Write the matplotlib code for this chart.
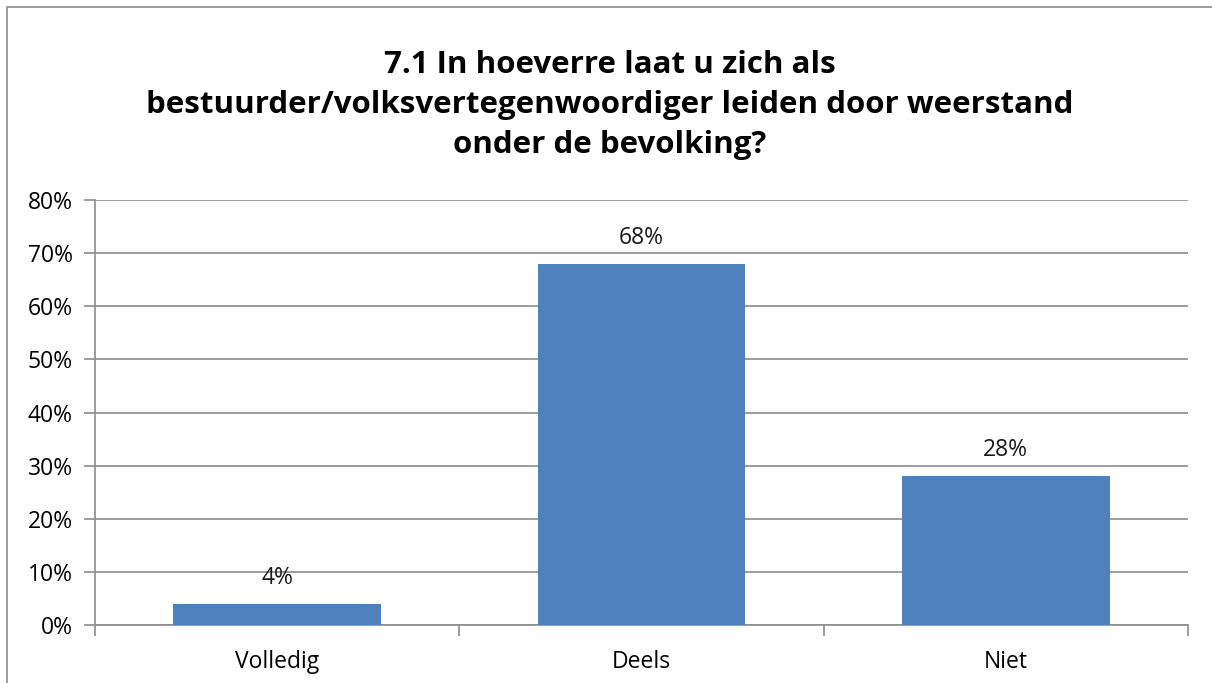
import matplotlib.pyplot as plt
from matplotlib.patches import Rectangle

# data
categories = ["Volledig", "Deels", "Niet"]
values = [4, 68, 28]
yticks = [0, 10, 20, 30, 40, 50, 60, 70, 80]
title = ("7.1 In hoeverre laat u zich als\n"
         "bestuurder/volksvertegenwoordiger leiden door weerstand\n"
         "onder de bevolking?")

plt.rcParams['font.family'] = ['Open Sans', 'DejaVu Sans']

fig = plt.figure(figsize=(12.12, 6.83), dpi=100)
ax = fig.add_axes([95 / 1212, 1 - 625 / 683, (1188 - 95) / 1212, (625 - 200) / 683])

x = list(range(len(categories)))
bars = ax.bar(x, values, width=0.57, color="#4F81BD", zorder=3)
for xi, v in zip(x, values):
    ax.text(xi, v + 2.6, f"{v}%", ha="center", va="bottom", fontsize=16.5, color="#1a1a1a")

ax.set_xlim(-0.5, len(categories) - 0.5)
ax.set_ylim(0, 80)
ax.set_yticks(yticks)
ax.set_yticklabels([f"{t}%" for t in yticks], fontsize=16.5)
ax.set_xticks(x)
ax.set_xticklabels(categories, fontsize=16.5)
ax.set_xticks([i - 0.5 for i in range(len(categories) + 1)], minor=True)
ax.tick_params(axis="x", which="major", length=0, pad=18)
ax.tick_params(axis="x", which="minor", length=8, color="#8c8c8c", width=1.2)
ax.tick_params(axis="y", length=8, color="#8c8c8c", width=1.2, pad=8)
ax.grid(axis="y", color="#8c8c8c", linewidth=1.2, zorder=0)
for s in ["top", "right"]:
    ax.spines[s].set_visible(False)
for s in ["left", "bottom"]:
    ax.spines[s].set_color("#8c8c8c")
    ax.spines[s].set_linewidth(1.2)

fig.text(610 / 1212, 1 - 105 / 683, title, ha="center", va="center",
         fontsize=22.5, fontweight="bold", linespacing=1.45)

# outer chart border
fig.patches.append(Rectangle((7 / 1212, -0.05), 1.2, 1 - 7 / 683 + 0.05,
                             transform=fig.transFigure, fill=False,
                             edgecolor="#8c8c8c", linewidth=1.2))

fig.savefig("out.png", dpi=100)
